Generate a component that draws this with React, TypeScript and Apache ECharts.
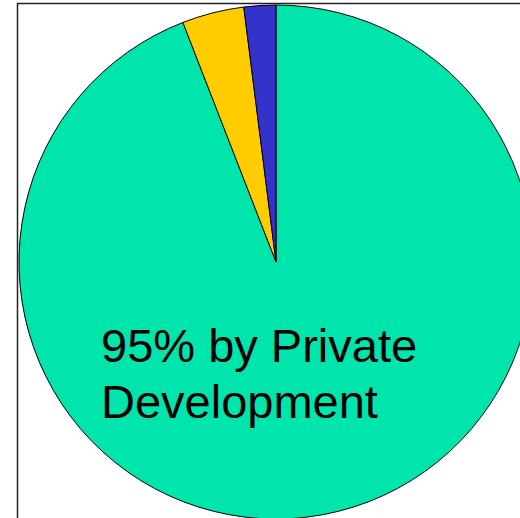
import React, { useEffect, useRef } from "react";
import * as echarts from "echarts";

const categories = ["Private Development", "Other A", "Other B"];
const values = [94.1, 3.9, 2.0];
const colors = ["#00E5AC", "#FFCC00", "#3333CC"];
const labelLines = ["95% by Private", "Development"];

export default function App() {
  const ref = useRef<HTMLDivElement>(null);
  useEffect(() => {
    if (!ref.current) return;
    const chart = echarts.init(ref.current, null, { renderer: "svg" });
    chart.setOption({
      animation: false,
      backgroundColor: "#ffffff",
      graphic: [
        {
          type: "rect",
          z: 0,
          shape: { x: 17.5, y: 3.5, width: 700, height: 700 },
          style: { fill: "none", stroke: "#222", lineWidth: 1.5 },
        },
        {
          type: "text",
          z: 10,
          x: 101,
          y: 317,
          style: {
            text: labelLines.join("\n"),
            font: '47px "Liberation Sans", Arial, sans-serif',
            fill: "#000",
            lineHeight: 56,
          },
        },
      ],
      series: [
        {
          type: "pie",
          center: [276, 262],
          radius: 257,
          startAngle: 90,
          clockwise: true,
          label: { show: false },
          labelLine: { show: false },
          emphasis: { disabled: true },
          itemStyle: { borderColor: "#000", borderWidth: 1 },
          data: categories.map((name, i) => ({
            name,
            value: values[i],
            itemStyle: { color: colors[i] },
          })),
        },
      ],
    });
    return () => chart.dispose();
  }, []);
  return (
    <div
      ref={ref}
      style={{ position: "fixed", left: 0, top: 0, width: 520, height: 518 }}
    />
  );
}
